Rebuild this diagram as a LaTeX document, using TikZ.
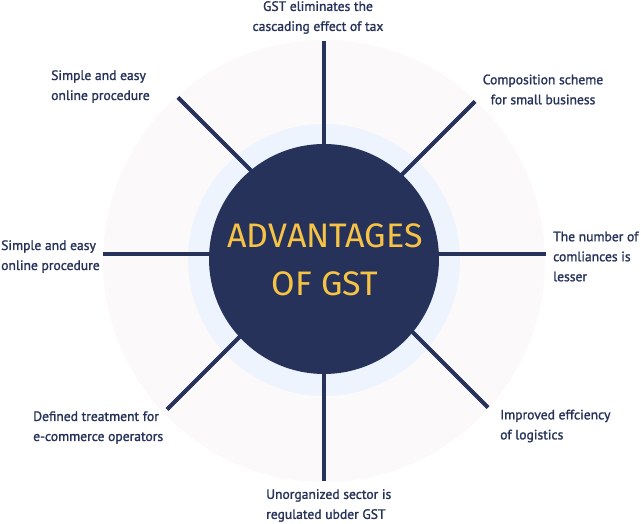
\documentclass[tikz,border=0pt]{standalone}
\usepackage{fontspec}
\setmainfont{Fira Sans}
\newfontfamily\labfont{PT Sans}[FakeBold=1.4]
\definecolor{navy}{HTML}{26325A}
\definecolor{gold}{HTML}{F6C344}
\definecolor{ring}{HTML}{EDF4FE}
\definecolor{blush}{HTML}{FCF9FA}

\begin{document}
\begin{tikzpicture}[x=1pt,y=-1pt,
    spoke/.style={navy,line width=4pt},
    lbl/.style={text=navy,inner sep=0pt,font=\labfont\fontsize{13.6}{20}\selectfont}]
          \useasboundingbox (0,0) rectangle (641,524);
          \fill[blush] (324,261) circle (221pt);
          \fill[ring] (324,260) circle (136pt);
          \coordinate (T) at (324,41);
          \coordinate (B) at (324,481);
          \coordinate (L) at (103,254);
          \coordinate (R) at (546,254);
          \coordinate (UL) at (178,97.5);
          \coordinate (LR) at (488,407.5);
          \coordinate (UR) at (475,101.5);
          \coordinate (LL) at (167,409.5);
          \draw[spoke] (T)--(B);
          \draw[spoke] (L)--(R);
          \draw[spoke] (UL)--(LR);
          \draw[spoke] (UR)--(LL);
          \node[circle,fill=navy,minimum size=230pt,inner sep=0pt] (C) at (324,259) {};
          \node[text=gold,align=center,font=\fontsize{34}{48}\selectfont] (title) at (325,259.5) {ADVANTAGES\\OF GST};
          \node[lbl,align=center] (tax) at (318,17.5) {GST eliminates the\\cascading effect of tax};
          \node[lbl,align=left,anchor=west] (online1) at (51,86.5) {Simple and easy\\online procedure};
          \node[lbl,align=center] (scheme) at (543,89.5) {Composition scheme\\for small business};
          \node[lbl,align=left,anchor=west] (online2) at (1,256.5) {Simple and easy\\online procedure};
          \node[lbl,align=left,anchor=west] (comp) at (553,256.5) {The number of\\comliances is\\lesser};
          \node[lbl,align=left,anchor=west] (ecom) at (33,427.5) {Defined treatment for\\e-commerce operators};
          \node[lbl,align=left,anchor=west] (logi) at (500,426) {Improved effciency\\of logistics};
          \node[lbl,align=left,anchor=west] (unorg) at (266,505.5) {Unorganized sector is\\regulated ubder GST};
        \end{tikzpicture}
\end{document}
